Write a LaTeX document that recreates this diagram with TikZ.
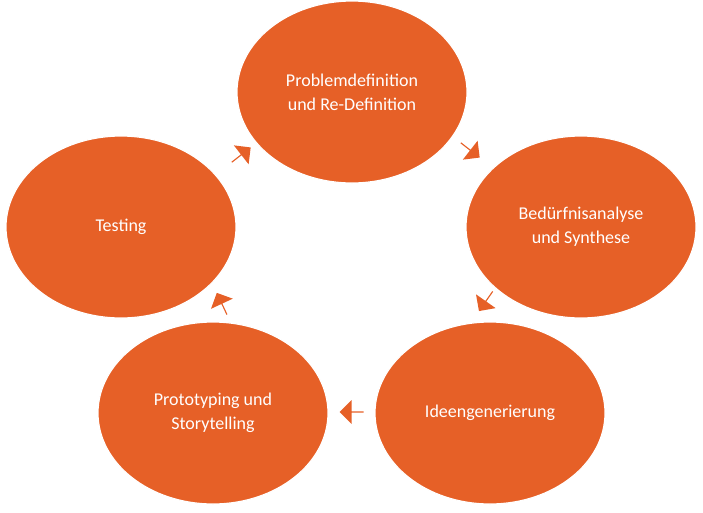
\documentclass[tikz,border=0pt]{standalone}
\usepackage{fontspec}
\setmainfont{Carlito}
\usetikzlibrary{shapes.arrows}
\definecolor{org}{HTML}{E66027}
\begin{document}
\begin{tikzpicture}[x=1pt,y=-1pt,
  el/.style={draw=white,line width=1.2pt,fill=org},
  lab/.style={text=white,font=\fontsize{18}{24}\selectfont,align=center},
  arr/.style={single arrow,fill=org,minimum height=24pt,minimum width=24pt,single arrow head extend=4pt,inner sep=0pt}]
\useasboundingbox (0,0) rectangle (703,512);
\foreach \n/\x/\y in {a/352/92,b/581/227,c/490/413,d/213/413,e/121/227}{
  \fill[el] (\x,\y) ellipse [x radius=115,y radius=91];
  \coordinate (\n) at (\x,\y);
}
\node[lab] (ta) at (a) {Problemdefinition\\und Re-Definition};
\node[lab] (tb) at (b) {Bedürfnisanalyse\\und Synthese};
\node[lab] (tc) at (c) {Ideengenerierung};
\node[lab] (td) at (d) {Prototyping und\\Storytelling};
\node[lab] (te) at (e) {Testing};
\node[arr,rotate=-38] (ab) at (470,150) {};
\node[arr,rotate=-125] (bc) at (486,301) {};
\node[arr,rotate=180] (cd) at (352,412) {};
\node[arr,rotate=115] (de) at (222,304) {};
\node[arr,rotate=38] (ea) at (241,155) {};
\end{tikzpicture}
\end{document}
